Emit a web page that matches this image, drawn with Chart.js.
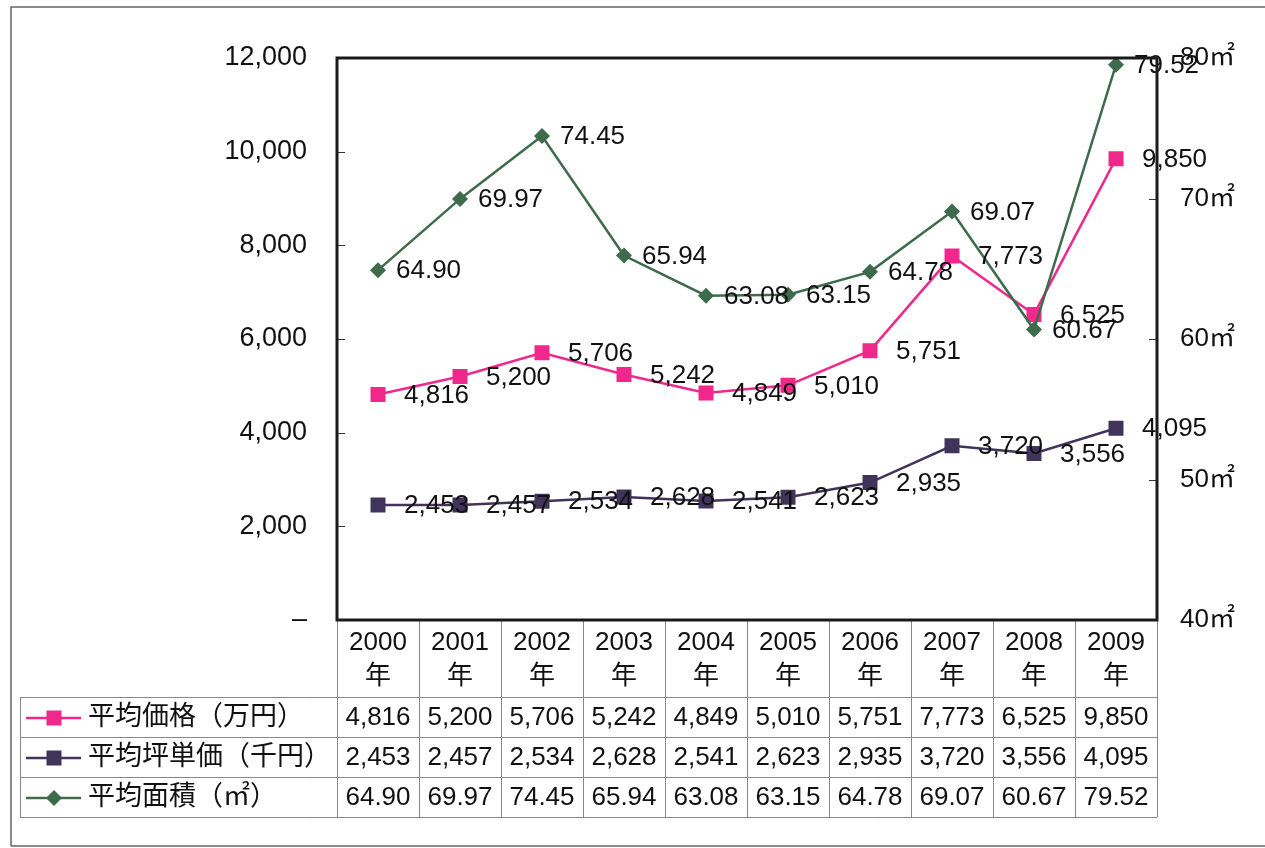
<!DOCTYPE html>
<html lang="ja">
<head>
<meta charset="utf-8">
<title>平均価格・平均坪単価・平均面積の推移</title>
<script src="https://cdn.jsdelivr.net/npm/chart.js@4.4.1/dist/chart.umd.min.js"></script>
<style>
    html, body { margin: 0; padding: 0; background: #fff; }
    canvas { display: block; }
</style>
</head>
<body>
<canvas id="priceChart" width="1265" height="848"></canvas>
<script>
// Chart data
const years = ['2000', '2001', '2002', '2003', '2004', '2005', '2006', '2007', '2008', '2009'];
const yearSuffix = '年';
const avgPrice = [4816, 5200, 5706, 5242, 4849, 5010, 5751, 7773, 6525, 9850];   // 平均価格(万円)
const avgTsubo = [2453, 2457, 2534, 2628, 2541, 2623, 2935, 3720, 3556, 4095];   // 平均坪単価(千円)
const avgArea = [64.90, 69.97, 74.45, 65.94, 63.08, 63.15, 64.78, 69.07, 60.67, 79.52]; // 平均面積(㎡)
const seriesNames = ['平均価格（万円）', '平均坪単価（千円）', '平均面積（㎡）'];

// Axis ranges
const leftMin = 0, leftMax = 12000, leftStep = 2000;
const rightMin = 40, rightMax = 80, rightStep = 10;

const FONT = '"Liberation Sans", "Noto Sans CJK JP", sans-serif';
const TEXT_COLOR = '#111';
const COLORS = {
    price: '#F0288C',
    tsubo: '#40345A',
    area: '#3D6B4C'
};

const fmtInt = v => v.toLocaleString('en-US');
const fmtArea = v => v.toFixed(2);

// Draw a legend marker
function drawMarker(ctx, style, x, y, color) {
    ctx.save();
    ctx.fillStyle = color;
    if (style === 'rect') {
        ctx.fillRect(x - 7.5, y - 7.5, 15, 15);
    } else {
        ctx.beginPath();
        ctx.moveTo(x, y - 8);
        ctx.lineTo(x + 8, y);
        ctx.lineTo(x, y + 8);
        ctx.lineTo(x - 8, y);
        ctx.closePath();
        ctx.fill();
    }
    ctx.restore();
}

// Plugin: white background, frame, plot border, inner ticks and data table
const tablePlugin = {
    id: 'tablePlugin',
    beforeDraw(chart) {
        const ctx = chart.ctx;
        ctx.save();
        ctx.fillStyle = '#fff';
        ctx.fillRect(0, 0, chart.width, chart.height);
        ctx.restore();
    },
    afterDraw(chart) {
        const ctx = chart.ctx;
        const area = chart.chartArea;
        const x = chart.scales.x;
        const yL = chart.scales.y;
        const yR = chart.scales.y1;

        ctx.save();

        // outer frame
        ctx.strokeStyle = '#666';
        ctx.lineWidth = 1.5;
        ctx.beginPath();
        ctx.moveTo(11, 846);
        ctx.lineTo(11, 7);
        ctx.lineTo(chart.width, 7);
        ctx.moveTo(11, 846);
        ctx.lineTo(chart.width, 846);
        ctx.stroke();

        // inner ticks
        ctx.strokeStyle = '#333';
        ctx.lineWidth = 1;
        ctx.beginPath();
        for (let v = leftMin + leftStep; v < leftMax; v += leftStep) {
            const py = Math.round(yL.getPixelForValue(v)) + 0.5;
            ctx.moveTo(area.left, py);
            ctx.lineTo(area.left + 8, py);
        }
        for (let v = rightMin + rightStep; v < rightMax; v += rightStep) {
            const py = Math.round(yR.getPixelForValue(v)) + 0.5;
            ctx.moveTo(area.right - 8, py);
            ctx.lineTo(area.right, py);
        }
        ctx.stroke();

        // table grid
        const tableTop = area.bottom;
        const headerBottom = 697;
        const rowH = 40;
        const tableLeft = 20;
        const tableBottom = headerBottom + rowH * 3;
        const colW = (area.right - area.left) / years.length;

        ctx.strokeStyle = '#888';
        ctx.lineWidth = 1;
        ctx.beginPath();
        for (let i = 0; i <= 3; i++) {
            const py = headerBottom + rowH * i + 0.5;
            ctx.moveTo(tableLeft, py);
            ctx.lineTo(area.right, py);
        }
        ctx.moveTo(tableLeft + 0.5, headerBottom);
        ctx.lineTo(tableLeft + 0.5, tableBottom);
        for (let i = 0; i <= years.length; i++) {
            const px = Math.round(area.left + colW * i) + 0.5;
            ctx.moveTo(px, tableTop);
            ctx.lineTo(px, tableBottom);
        }
        ctx.stroke();

        // header texts
        ctx.fillStyle = TEXT_COLOR;
        ctx.font = '26px ' + FONT;
        ctx.textAlign = 'center';
        ctx.textBaseline = 'middle';
        years.forEach((yr, i) => {
            const cx = x.getPixelForValue(i);
            ctx.fillText(yr, cx, 643);
            ctx.fillText(yearSuffix, cx, 677);
        });

        // series rows
        const rows = [
            { values: avgPrice.map(fmtInt), color: COLORS.price, marker: 'rect' },
            { values: avgTsubo.map(fmtInt), color: COLORS.tsubo, marker: 'rect' },
            { values: avgArea.map(fmtArea), color: COLORS.area, marker: 'diamond' }
        ];
        rows.forEach((row, r) => {
            const cy = headerBottom + rowH * r + rowH / 2 + 1;
            // legend key
            ctx.strokeStyle = row.color;
            ctx.lineWidth = 2.5;
            ctx.beginPath();
            ctx.moveTo(26, cy);
            ctx.lineTo(81, cy);
            ctx.stroke();
            drawMarker(ctx, row.marker, 54, cy, row.color);

            ctx.fillStyle = TEXT_COLOR;
            ctx.textAlign = 'left';
            ctx.font = '27px ' + FONT;
            ctx.fillText(seriesNames[r], 88, cy);

            ctx.textAlign = 'center';
            ctx.font = '26px ' + FONT;
            row.values.forEach((txt, i) => {
                ctx.fillText(txt, x.getPixelForValue(i), cy);
            });
        });

        // plot border
        ctx.strokeStyle = '#1a1a1a';
        ctx.lineWidth = 3;
        ctx.strokeRect(area.left, area.top, area.right - area.left, area.bottom - area.top);

        ctx.restore();
    }
};

// Plugin: data labels to the right of each point
const labelPlugin = {
    id: 'labelPlugin',
    afterDatasetsDraw(chart) {
        const ctx = chart.ctx;
        ctx.save();
        ctx.fillStyle = TEXT_COLOR;
        ctx.font = '26px ' + FONT;
        ctx.textAlign = 'left';
        ctx.textBaseline = 'middle';
        chart.data.datasets.forEach((ds, di) => {
            const meta = chart.getDatasetMeta(di);
            meta.data.forEach((pt, i) => {
                ctx.fillText(ds.labelFormat(ds.data[i]), pt.x + ds.labelOffset, pt.y + 1);
            });
        });
        ctx.restore();
    }
};

const ctx = document.getElementById('priceChart').getContext('2d');
const priceChart = new Chart(ctx, {
    type: 'line',
    data: {
        labels: years,
        datasets: [
            {
                label: seriesNames[2],
                data: avgArea,
                yAxisID: 'y1',
                borderColor: COLORS.area,
                backgroundColor: COLORS.area,
                borderWidth: 2.5,
                pointStyle: 'rectRot',
                pointRadius: 8,
                pointBorderWidth: 0,
                labelOffset: 18,
                labelFormat: fmtArea,
                order: 0
            },
            {
                label: seriesNames[0],
                data: avgPrice,
                yAxisID: 'y',
                borderColor: COLORS.price,
                backgroundColor: COLORS.price,
                borderWidth: 2.5,
                pointStyle: 'rect',
                pointRadius: 10.6,
                pointBorderWidth: 0,
                labelOffset: 26,
                labelFormat: fmtInt,
                order: 1
            },
            {
                label: seriesNames[1],
                data: avgTsubo,
                yAxisID: 'y',
                borderColor: COLORS.tsubo,
                backgroundColor: COLORS.tsubo,
                borderWidth: 2.5,
                pointStyle: 'rect',
                pointRadius: 10.6,
                pointBorderWidth: 0,
                labelOffset: 26,
                labelFormat: fmtInt,
                order: 2
            }
        ]
    },
    options: {
        responsive: false,
        animation: false,
        devicePixelRatio: 1,
        layout: { padding: { top: 58, left: 0, right: 0, bottom: 0 } },
        plugins: {
            legend: { display: false },
            tooltip: { enabled: false },
            title: { display: false }
        },
        elements: { line: { tension: 0 } },
        scales: {
            x: {
                offset: true,
                grid: { display: false },
                border: { display: false },
                ticks: { display: false },
                afterFit: s => { s.height = 228; }
            },
            y: {
                position: 'left',
                min: leftMin,
                max: leftMax,
                grid: { display: false, drawTicks: false },
                border: { display: false },
                ticks: {
                    stepSize: leftStep,
                    padding: 30,
                    color: TEXT_COLOR,
                    font: { size: 27, family: FONT },
                    callback: v => (v === 0 ? '–' : fmtInt(v))
                },
                afterFit: s => { s.width = 337; }
            },
            y1: {
                position: 'right',
                min: rightMin,
                max: rightMax,
                grid: { display: false, drawTicks: false },
                border: { display: false },
                ticks: {
                    stepSize: rightStep,
                    padding: 23,
                    color: TEXT_COLOR,
                    font: { size: 26, family: FONT },
                    callback: v => v + '㎡'
                },
                afterFit: s => { s.width = 108; }
            }
        }
    },
    plugins: [tablePlugin, labelPlugin]
});
</script>
</body>
</html>
